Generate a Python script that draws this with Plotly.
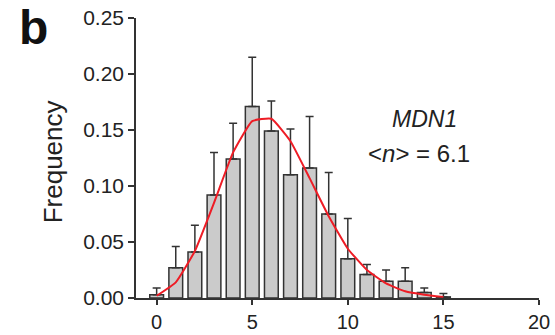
import plotly.graph_objects as go

# Data
n_values = list(range(16))
frequency = [0.003, 0.027, 0.041, 0.092, 0.124, 0.171, 0.149, 0.110,
             0.116, 0.075, 0.035, 0.021, 0.015, 0.015, 0.005, 0.001]
error_top = [0.009, 0.046, 0.065, 0.130, 0.156, 0.215, 0.176, 0.151,
             0.162, 0.112, 0.071, 0.030, 0.025, 0.027, 0.009, 0.004]
fit_values = [0.002, 0.014, 0.042, 0.085, 0.130, 0.158, 0.160, 0.140,
              0.107, 0.073, 0.044, 0.025, 0.013, 0.006, 0.003, 0.001]
x_ticks = [0, 5, 10, 15, 20]
y_ticks = [0.0, 0.05, 0.10, 0.15, 0.20, 0.25]

err_plus = [t - v for t, v in zip(error_top, frequency)]

FONT = "Liberation Sans, Arial, Helvetica, sans-serif"
AX = "#333333"
TXT = "#222222"

fig = go.Figure()
fig.add_trace(go.Bar(
    x=n_values, y=frequency, width=0.72,
    marker=dict(color="#cbcbcb", line=dict(color=AX, width=1.5)),
    error_y=dict(type="data", symmetric=False, array=err_plus,
                 arrayminus=[0] * len(err_plus),
                 color=AX, thickness=1.5, width=4),
    showlegend=False,
))
fig.add_trace(go.Scatter(
    x=n_values, y=fit_values, mode="lines",
    line=dict(color="#ee1c25", width=2, shape="spline", smoothing=0.4),
    showlegend=False,
))

fig.update_layout(
    width=555, height=335,
    margin=dict(l=136, r=16, t=18, b=37),
    paper_bgcolor="white", plot_bgcolor="white",
    font=dict(family=FONT, color=TXT),
    xaxis=dict(range=[-1.08, 20], tickvals=x_ticks, ticks="outside",
               ticklen=5, tickwidth=1.5, tickcolor=AX, showline=True,
               linecolor=AX, linewidth=1.5, showgrid=False, zeroline=False,
               automargin=False,
               tickfont=dict(size=20, family=FONT, color=TXT)),
    yaxis=dict(range=[0, 0.25], tickvals=y_ticks, tickformat=".2f",
               ticks="outside", ticklen=6, tickwidth=1.5, tickcolor=AX,
               showline=True, linecolor=AX, linewidth=1.5, showgrid=False,
               zeroline=False, automargin=False,
               tickfont=dict(size=21, family=FONT, color=TXT)),
    annotations=[
        dict(text="<b>b</b>", xref="paper", yref="paper", x=-0.255, y=0.965,
             showarrow=False, font=dict(size=48, family=FONT, color="#111111"),
             xanchor="center", yanchor="middle"),
        dict(text="Frequency", xref="paper", yref="paper", x=-0.205, y=0.486,
             textangle=-90, showarrow=False,
             font=dict(size=26, family=FONT, color=TXT),
             xanchor="center", yanchor="middle"),
        dict(text="<i>MDN1</i>", x=14.0, y=0.160, showarrow=False,
             font=dict(size=23, family=FONT, color=TXT),
             xanchor="center", yanchor="middle"),
        dict(text="&lt;<i>n</i>&gt; = 6.1", x=13.7, y=0.1286, showarrow=False,
             font=dict(size=24, family=FONT, color=TXT),
             xanchor="center", yanchor="middle"),
    ],
)

fig.write_html("out.html", config={"displayModeBar": False},
               post_script="document.body.style.margin='0';")
